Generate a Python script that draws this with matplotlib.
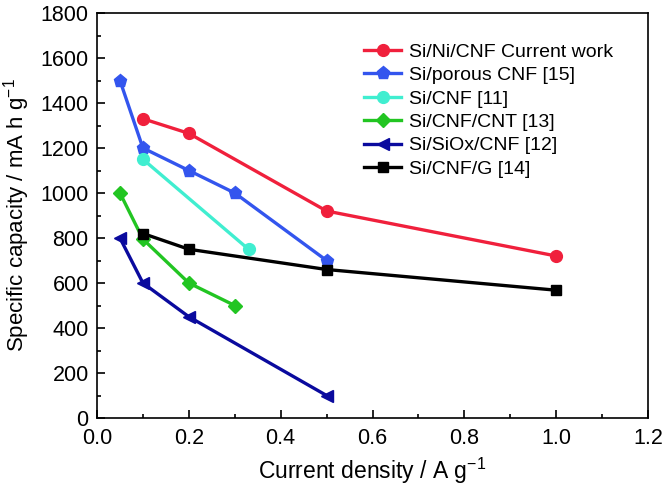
import matplotlib
matplotlib.use("Agg")
import matplotlib.pyplot as plt
from matplotlib.ticker import MultipleLocator

plt.rcParams['font.family'] = ['Liberation Sans', 'DejaVu Sans']
plt.rcParams['mathtext.fontset'] = 'custom'
plt.rcParams['mathtext.rm'] = 'Liberation Sans'
plt.rcParams['mathtext.it'] = 'Liberation Sans'
plt.rcParams['mathtext.default'] = 'regular'

labels = ["Si/Ni/CNF Current work", "Si/porous CNF [15]", "Si/CNF [11]",
          "Si/CNF/CNT [13]", "Si/SiOx/CNF [12]", "Si/CNF/G [14]"]
x_red = [0.1, 0.2, 0.5, 1.0]
y_red = [1330, 1265, 920, 720]
x_blue = [0.05, 0.1, 0.2, 0.3, 0.5]
y_blue = [1500, 1200, 1100, 1000, 700]
x_cyan = [0.1, 0.33]
y_cyan = [1150, 750]
x_green = [0.05, 0.1, 0.2, 0.3]
y_green = [1000, 795, 600, 500]
x_navy = [0.05, 0.1, 0.2, 0.5]
y_navy = [800, 600, 450, 100]
x_black = [0.1, 0.2, 0.5, 1.0]
y_black = [820, 750, 660, 568]

series = [
    (x_red, y_red, '#F0203C', 'o', 8.5),
    (x_blue, y_blue, '#3355EE', 'p', 9.5),
    (x_cyan, y_cyan, '#40EED0', 'o', 8.5),
    (x_green, y_green, '#22C522', 'D', 7),
    (x_navy, y_navy, '#0A0A9E', '<', 8.5),
    (x_black, y_black, '#000000', 's', 7),
]

fig = plt.figure(figsize=(6.65, 4.95), dpi=100)
ax = fig.add_axes([97/665, 1-418/495, (648-97)/665, (418-13)/495])

for (xs, ys, c, m, ms), lab in zip(series, labels):
    ax.plot(xs, ys, color=c, marker=m, markersize=ms, linewidth=2.4, label=lab)

ax.set_xlim(0, 1.2)
ax.set_ylim(0, 1800)
ax.xaxis.set_major_locator(MultipleLocator(0.2))
ax.xaxis.set_minor_locator(MultipleLocator(0.1))
ax.yaxis.set_major_locator(MultipleLocator(200))
ax.yaxis.set_minor_locator(MultipleLocator(100))
ax.xaxis.set_major_formatter(plt.FuncFormatter(lambda v, p: f"{v:.1f}"))
ax.tick_params(which='both', direction='in', top=False, right=False, labelsize=15.5, width=1.2)
ax.tick_params(which='major', length=6)
ax.tick_params(which='minor', length=3)
ax.tick_params(axis='x', pad=7)
ax.tick_params(axis='y', pad=6)
for s in ax.spines.values():
    s.set_linewidth(1.2)

ax.set_xlabel("Current density / A g$^{-1}$", fontsize=16.5, labelpad=5)
ax.set_ylabel("Specific capacity / mA h g$^{-1}$", fontsize=16, labelpad=6)

ax.legend(loc='upper left', bbox_to_anchor=(0.471, 0.945), frameon=False, fontsize=14,
          handlelength=1.9, handletextpad=0.4, labelspacing=0.3, borderaxespad=0)

fig.savefig("out.png", dpi=100)
